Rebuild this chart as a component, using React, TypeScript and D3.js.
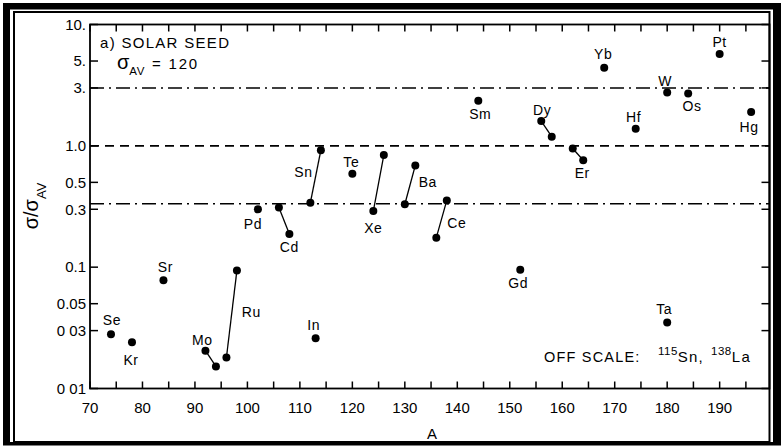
import React from "react";
import * as d3 from "d3";

// Element symbols, their isotope mass numbers and cross-section ratios sigma/sigma_AV
const symbols = ["Se", "Kr", "Sr", "Mo", "Ru", "Pd", "Cd", "Sn", "In", "Te", "Xe", "Ba", "Ce", "Sm", "Gd", "Dy", "Er", "Yb", "Hf", "Ta", "W", "Os", "Pt", "Hg"];
const massNumbers: number[][] = [[74], [78], [84], [92, 94], [96, 98], [102], [106, 108], [112, 114], [113], [120], [124, 126], [130, 132], [136, 138], [144], [152], [156, 158], [162, 164], [168], [174], [180], [180], [184], [190], [196]];
const ratios: number[][] = [[0.028], [0.024], [0.078], [0.0205, 0.0152], [0.018, 0.094], [0.3], [0.31, 0.188], [0.34, 0.92], [0.026], [0.59], [0.29, 0.84], [0.33, 0.69], [0.175, 0.355], [2.35], [0.095], [1.6, 1.19], [0.95, 0.76], [4.4], [1.38], [0.035], [2.75], [2.7], [5.7], [1.9]];

// Axis ticks
const xTicksMajor = [70, 80, 90, 100, 110, 120, 130, 140, 150, 160, 170, 180, 190];
const xTicksAll = [70, 75, 80, 85, 90, 95, 100, 105, 110, 115, 120, 125, 130, 135, 140, 145, 150, 155, 160, 165, 170, 175, 180, 185, 190, 195];
const yTickValues = [10, 5, 3, 1, 0.5, 0.3, 0.1, 0.05, 0.03, 0.01];
const yTickLabels = ["10.", "5.", "3.", "1.0", "0.5", "0.3", "0.1", "0.05", "0 03", "0 01"];

// Reference levels: 3, 1 and 1/3 of the average
const referenceLevels = [3, 1, 1 / 3];

const FONT = "'Liberation Sans', Arial, sans-serif";

// Label placement relative to one of the element's points (pixels, text center)
const labelPlacement: Record<string, { i: number; dx: number; dy: number }> = {
  Se: { i: 0, dx: 1, dy: -14 },
  Kr: { i: 0, dx: -1, dy: 18 },
  Sr: { i: 0, dx: 2, dy: -13 },
  Mo: { i: 0, dx: -3, dy: -11 },
  Ru: { i: 0, dx: 25, dy: -46 },
  Pd: { i: 0, dx: -5, dy: 15 },
  Cd: { i: 1, dx: 0, dy: 13 },
  Sn: { i: 0, dx: -7, dy: -31 },
  In: { i: 0, dx: -2, dy: -13 },
  Te: { i: 0, dx: -1, dy: -12 },
  Xe: { i: 0, dx: 0, dy: 17 },
  Ba: { i: 0, dx: 23, dy: -22 },
  Ce: { i: 1, dx: 10, dy: 23 },
  Sm: { i: 0, dx: 2, dy: 13 },
  Gd: { i: 0, dx: -2, dy: 13 },
  Dy: { i: 0, dx: 1, dy: -11 },
  Er: { i: 1, dx: -1, dy: 13 },
  Yb: { i: 0, dx: -1, dy: -14 },
  Hf: { i: 0, dx: -2, dy: -12 },
  Ta: { i: 0, dx: -3, dy: -13 },
  W: { i: 0, dx: -2, dy: -12 },
  Os: { i: 0, dx: 4, dy: 13 },
  Pt: { i: 0, dx: 0, dy: -12 },
  Hg: { i: 0, dx: -2, dy: 15 },
};

export default function App() {
  const W = 781;
  const H = 447;
  const left = 90;
  const right = 769.5;
  const top = 24.5;
  const bottom = 388.5;

  const x = d3.scaleLinear().domain([70, 199.5]).range([left, right]);
  const y = d3.scaleLog().domain([0.01, 10]).range([bottom, top]);

  const line = d3
    .line<[number, number]>()
    .x((d) => x(d[0]))
    .y((d) => y(d[1]));

  const series = symbols.map((s, k) => ({
    symbol: s,
    pts: massNumbers[k].map((a, j) => [a, ratios[k][j]] as [number, number]),
  }));

  return (
    <div style={{ position: "absolute", left: 0, top: 0 }}>
      <svg width={W} height={H} style={{ display: "block", background: "#fff" }}>
        {/* double frame */}
        <rect x={3} y={3} width={778} height={442.5} fill="#000" />
        <rect x={10} y={9.5} width={763} height={432.5} fill="#fff" />
        <rect x={14} y={12} width={755.5} height={430} fill="none" stroke="#000" strokeWidth={2} />

        {/* reference levels */}
        {referenceLevels.map((v, k) => (
          <line
            key={k}
            x1={left}
            x2={right}
            y1={y(v)}
            y2={y(v)}
            stroke="#000"
            strokeWidth={1.6}
            strokeDasharray={v === 1 ? "9,6" : "14,5,2,5"}
          />
        ))}

        {/* plot box */}
        <rect x={left} y={top} width={right - left} height={bottom - top} fill="none" stroke="#000" strokeWidth={1.8} />

        {/* x ticks, bottom and top, pointing inward */}
        {xTicksAll.map((t) => (
          <g key={t}>
            <line x1={x(t)} x2={x(t)} y1={bottom} y2={bottom - 7} stroke="#000" strokeWidth={1.5} />
            <line x1={x(t)} x2={x(t)} y1={top} y2={top + 7} stroke="#000" strokeWidth={1.5} />
          </g>
        ))}
        {xTicksMajor.map((t) => (
          <text key={t} x={x(t)} y={412.5} textAnchor="middle" fontFamily={FONT} fontSize={15} fill="#000">
            {t}
          </text>
        ))}

        {/* y ticks, left and right */}
        {yTickValues.map((v, k) => (
          <g key={v}>
            <line x1={left} x2={left + 8} y1={y(v)} y2={y(v)} stroke="#000" strokeWidth={1.5} />
            <line x1={right} x2={right - 8} y1={y(v)} y2={y(v)} stroke="#000" strokeWidth={1.5} />
            <text x={86} y={y(v) + 5.3} textAnchor="end" fontFamily={FONT} fontSize={15} fill="#000">
              {yTickLabels[k]}
            </text>
          </g>
        ))}

        {/* axis titles */}
        <text x={432} y={438.5} textAnchor="middle" fontFamily={FONT} fontSize={15} fill="#000">
          A
        </text>
        <text
          transform="translate(38,206) rotate(-90)"
          textAnchor="middle"
          fontFamily={FONT}
          fontSize={20}
          fill="#000"
        >
          σ/σ
          <tspan fontSize={13} dy={8}>
            AV
          </tspan>
        </text>

        {/* annotations */}
        <text x={100} y={48} fontFamily={FONT} fontSize={15} letterSpacing={1.3} fill="#000">
          a) SOLAR SEED
        </text>
        <text x={117} y={68.5} fontFamily={FONT} fill="#000">
          <tspan fontSize={20}>σ</tspan>
          <tspan fontSize={11.5} dy={6} letterSpacing={0.5}>
            AV
          </tspan>
          <tspan x={152} dy={-6} fontSize={15} letterSpacing={1.8}>
            = 120
          </tspan>
        </text>
        <text x={544} y={362} fontFamily={FONT} fontSize={14.5} letterSpacing={1.2} fill="#000">
          OFF SCALE:
          <tspan x={658} dy={-7} fontSize={11.5} letterSpacing={0.5}>
            115
          </tspan>
          <tspan dy={7} fontSize={15} letterSpacing={1.2}>
            Sn,
          </tspan>
          <tspan x={711} dy={-7} fontSize={11.5} letterSpacing={0.5}>
            138
          </tspan>
          <tspan dy={7} fontSize={15} letterSpacing={1.5}>
            La
          </tspan>
        </text>

        {/* isotope pairs and points */}
        {series.map((s) => (
          <g key={s.symbol}>
            {s.pts.length > 1 && <path d={line(s.pts) || ""} fill="none" stroke="#000" strokeWidth={1.3} />}
            {s.pts.map((p, j) => (
              <circle key={j} cx={x(p[0])} cy={y(p[1])} r={4} fill="#000" />
            ))}
          </g>
        ))}

        {/* element labels */}
        {series.map((s) => {
          const pl = labelPlacement[s.symbol];
          const p = s.pts[pl.i];
          return (
            <text
              key={s.symbol}
              x={x(p[0]) + pl.dx}
              y={y(p[1]) + pl.dy + 5}
              textAnchor="middle"
              fontFamily={FONT}
              fontSize={14}
              letterSpacing={0.6}
              fill="#000"
            >
              {s.symbol}
            </text>
          );
        })}
      </svg>
    </div>
  );
}
